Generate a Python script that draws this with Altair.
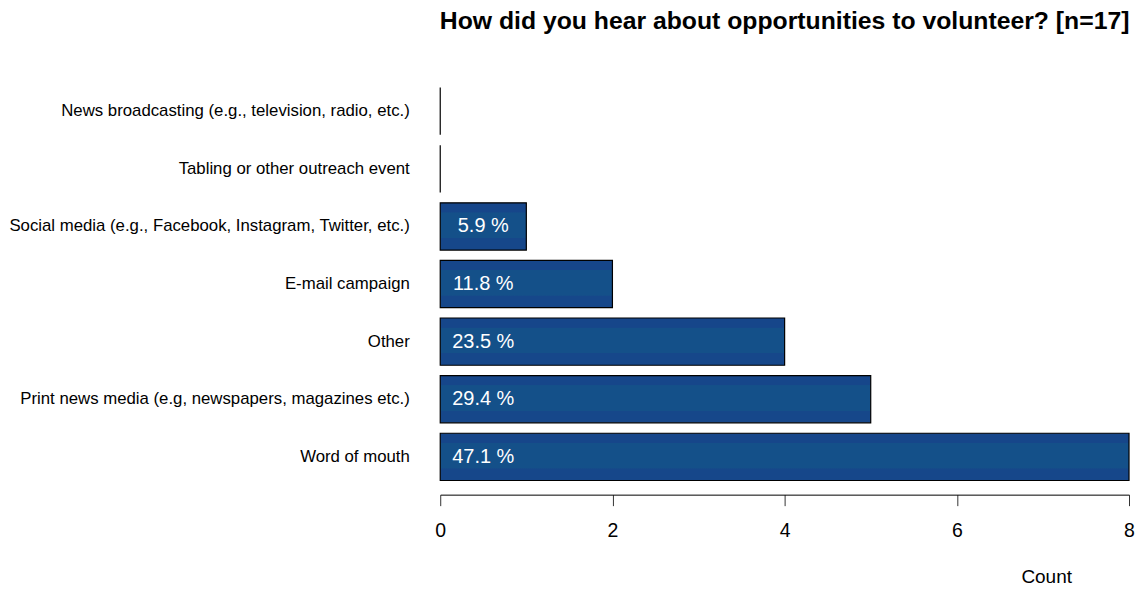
import altair as alt
import pandas as pd

categories = [
    "News broadcasting (e.g., television, radio, etc.)",
    "Tabling or other outreach event",
    "Social media (e.g., Facebook, Instagram, Twitter, etc.)",
    "E-mail campaign",
    "Other\u00a0",
    "Print news media (e.g, newspapers, magazines etc.)",
    "Word of mouth",
]
counts = [0, 0, 1, 2, 4, 5, 8]
pct_labels = ["", "", "5.9 %", "11.8 %", "23.5 %", "29.4 %", "47.1 %"]
label_pos = [0.5] * 7
x_ticks = [0, 2, 4, 6, 8]

df = pd.DataFrame({"cat": categories, "count": counts, "pct": pct_labels, "lx": label_pos})

FONT = "Liberation Sans"

grad = alt.Gradient(
    gradient="linear", x1=0, x2=0, y1=0, y2=1,
    stops=[
        alt.GradientStop(color="#16468a", offset=0),
        alt.GradientStop(color="#16468a", offset=0.2),
        alt.GradientStop(color="#145089", offset=0.21),
        alt.GradientStop(color="#145089", offset=0.74),
        alt.GradientStop(color="#16478a", offset=0.75),
        alt.GradientStop(color="#16478a", offset=1),
    ],
)

y_enc = alt.Y(
    "cat:N", sort=categories, title=None,
    scale=alt.Scale(paddingInner=0.18, paddingOuter=0.09),
    axis=alt.Axis(domain=False, ticks=False, labelFontSize=16.8, labelColor="black",
                  labelFont=FONT, labelPadding=31, labelLimit=700),
)

bars = alt.Chart(df).mark_bar(fill=grad, stroke="black", strokeWidth=1.2).encode(
    x=alt.X("count:Q", title="Count",
            scale=alt.Scale(domain=[0, 8], nice=False, zero=True),
            axis=alt.Axis(values=x_ticks, format="d", grid=False, domainColor="black",
                          tickColor="#333333", tickSize=11, labelFontSize=19.5,
                          labelColor="black", labelFont=FONT, labelPadding=16, offset=9,
                          labelFlush=False,
                          titleFont=FONT, titleFontSize=19, titleFontWeight="normal",
                          titleColor="black", titleX=607, titleY=82, titleAlign="center",
                          titleBaseline="middle")),
    y=y_enc,
)

text = alt.Chart(df).transform_filter("datum.count > 0").mark_text(
    color="white", fontSize=20, font=FONT, align="center", baseline="middle"
).encode(
    x=alt.X("lx:Q"),
    y=alt.Y("cat:N", sort=categories),
    text="pct:N",
)

chart = (bars + text).properties(
    width=690, height=404, background="white", padding=0,
    title=alt.TitleParams(
        "How did you hear about opportunities to volunteer? [n=17]",
        font=FONT, fontSize=24.8, fontWeight="bold", color="black", anchor="middle", offset=49,
    ),
).configure_view(stroke=None, strokeWidth=0)

chart.save("out.html", embed_options={"renderer": "svg", "actions": False})
